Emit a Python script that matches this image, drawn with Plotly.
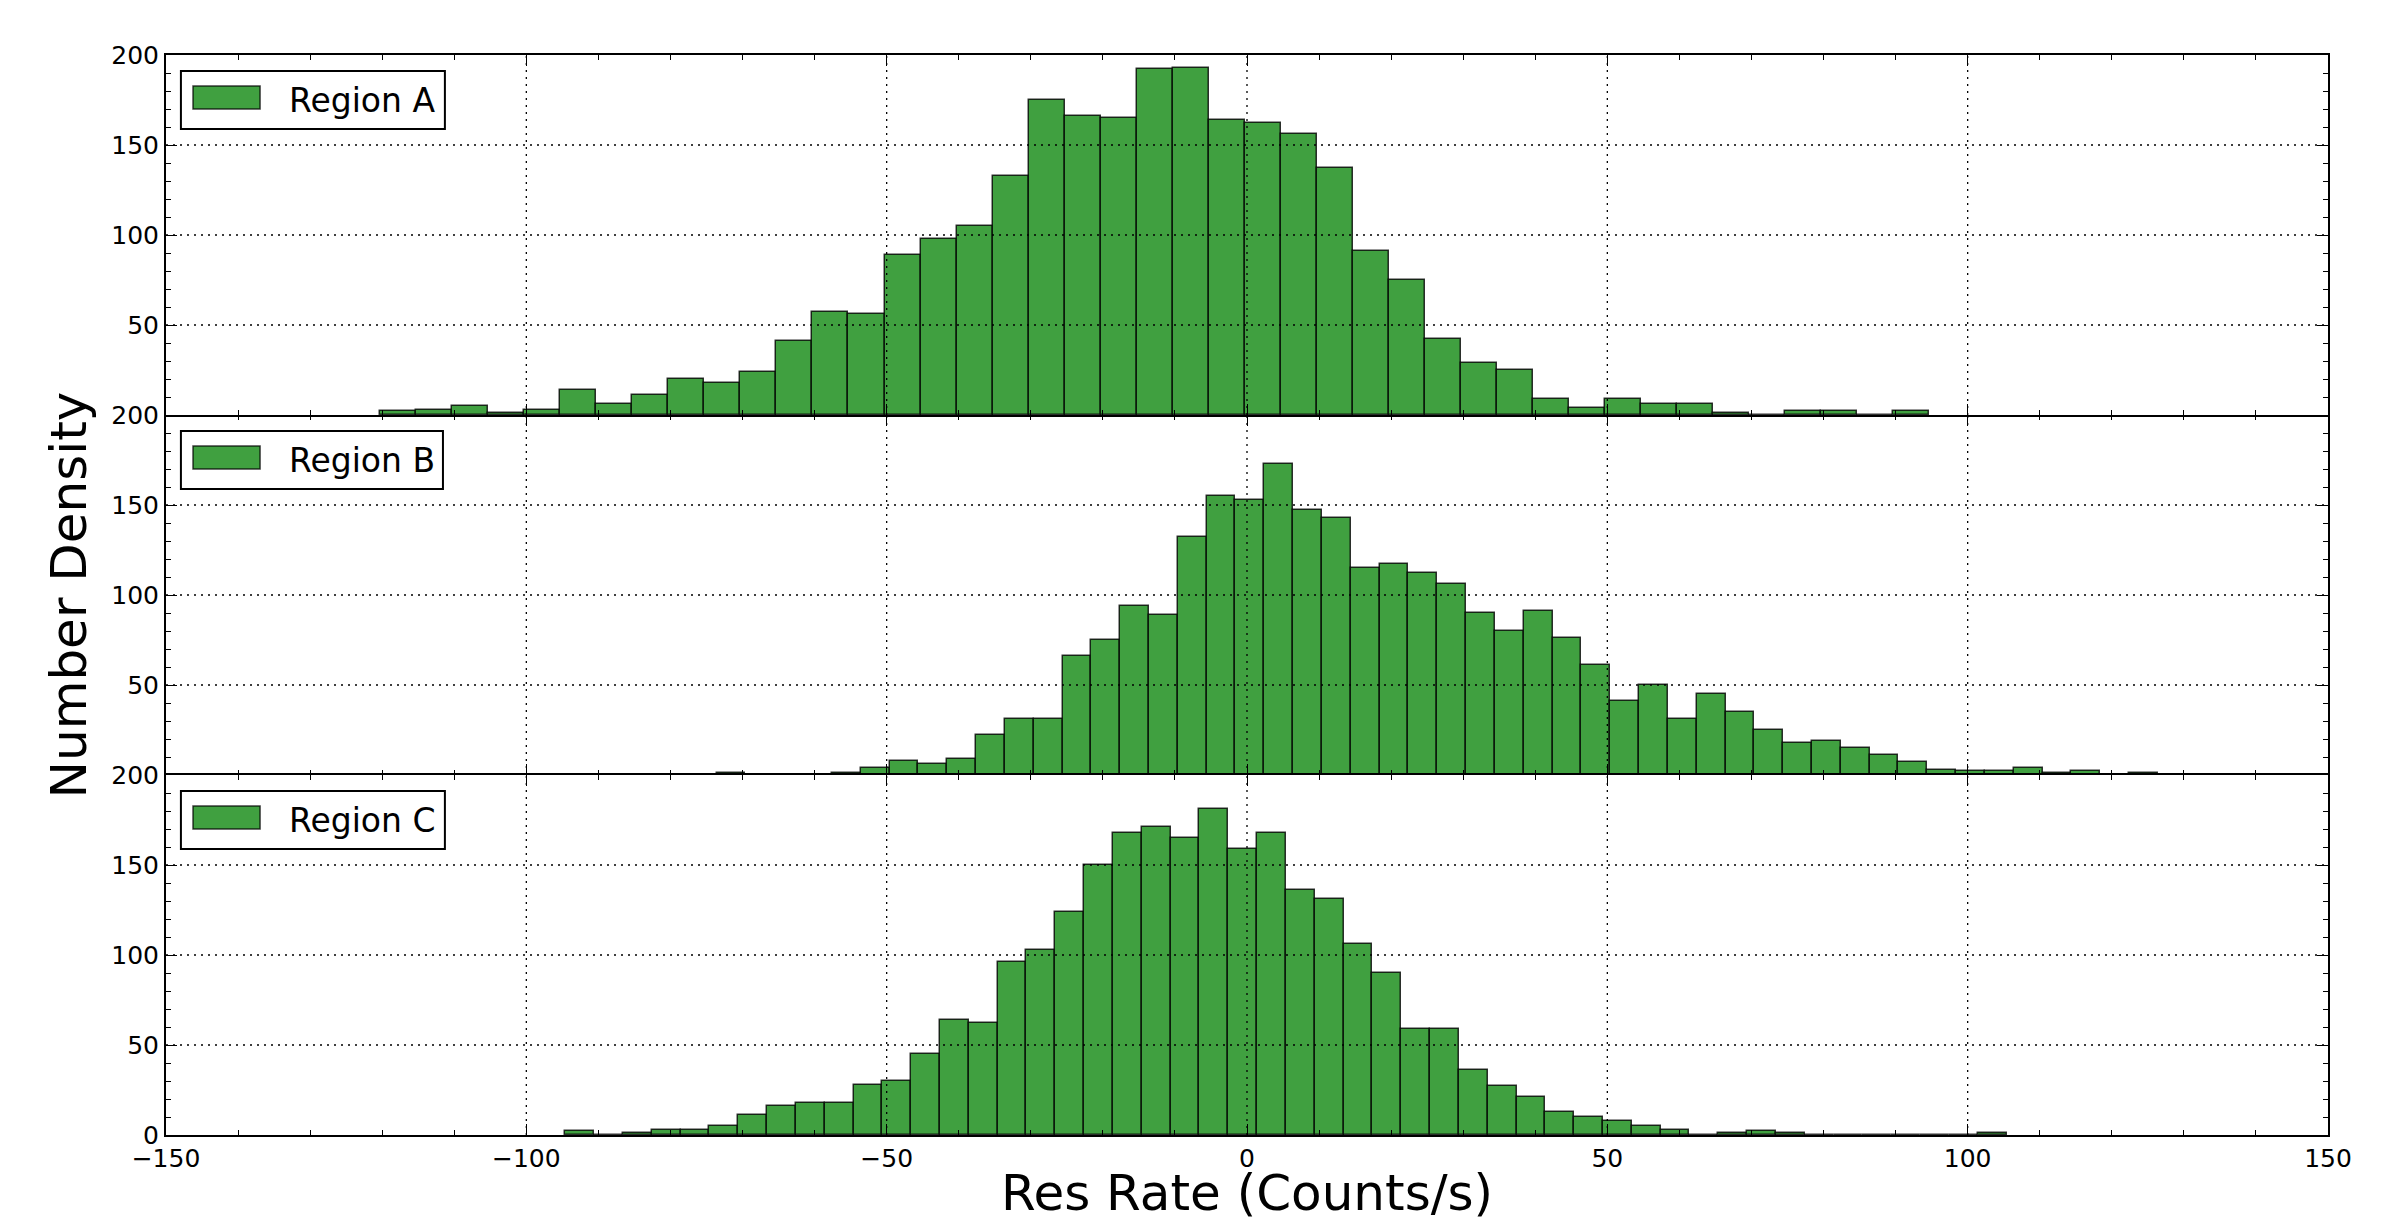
import numpy as np
import plotly.graph_objects as go
from plotly.subplots import make_subplots

# ---------------- data (histogram counts) ----------------
regions = ["Region A", "Region B", "Region C"]

# Region A: bins of width 5 starting at -120.3
a_start, a_width = -120.3, 5.0
a_counts = [2, 3, 5, 1, 3, 14, 6, 11, 20, 18,
            24, 41, 57, 56, 89, 98, 105, 133, 175, 166,
            165, 192, 193, 164, 162, 156, 137, 91, 75, 42,
            29, 25, 9, 4, 9, 6, 6, 1, 0, 2,
            2, 0, 2]

# Region B: bins of width 4 starting at -73.6
b_start, b_width = -73.6, 4.0
b_counts = [1, 0, 0, 0, 1, 4, 8, 6, 9, 22,
            31, 31, 66, 75, 94, 89, 132, 155, 153, 173,
            147, 143, 115, 117, 112, 106, 90, 80, 91, 76,
            61, 41, 50, 31, 45, 35, 25, 18, 19, 15,
            11, 7, 3, 2, 2, 4, 1, 2, 0, 1]

# Region C: bins of width 4 starting at -94.6
c_start, c_width = -94.6, 4.0
c_counts = [2, 0, 1, 3, 3, 5, 11, 16, 18, 18,
            28, 30, 45, 64, 62, 96, 103, 124, 150, 168,
            171, 165, 181, 159, 168, 136, 131, 106, 90, 59,
            59, 36, 27, 21, 13, 10, 8, 5, 3, 0,
            1, 2, 1, 0, 0, 0, 0, 0, 0, 1]

x_tickvals = [-150, -100, -50, 0, 50, 100, 150]
x_ticktext = ["\u2212150", "\u2212100", "\u221250", "0", "50", "100", "150"]
y_tickvals_top = [50, 100, 150, 200]
y_tickvals_bottom = [0, 50, 100, 150, 200]
x_grid = [-100, -50, 0, 50, 100]
y_grid = [50, 100, 150]

FONT = "DejaVu Sans"
BAR_COLOR = "#40a040"

series = [(a_start, a_width, a_counts), (b_start, b_width, b_counts), (c_start, c_width, c_counts)]

fig = make_subplots(rows=3, cols=1, shared_xaxes=True, vertical_spacing=0)

for i, (start, width, counts) in enumerate(series):
    row = i + 1
    n = len(counts)
    centers = start + width * (np.arange(n) + 0.5)
    fig.add_trace(
        go.Bar(
            x=centers, y=counts, width=width, name=regions[i], showlegend=False,
            marker=dict(color=BAR_COLOR, line=dict(color="rgba(0,0,0,0.8)", width=1.5)),
        ),
        row=row, col=1,
    )
    # dotted grid drawn over the bars (as in the reference)
    for v in x_grid:
        fig.add_vline(x=v, row=row, col=1, line=dict(color="black", width=1.3, dash="2px,5px"))
    for v in y_grid:
        fig.add_hline(y=v, row=row, col=1, line=dict(color="black", width=1.3, dash="2px,5px"))

    # legend box (matplotlib-style, wide patch)
    box_right = 0.1290 if i != 1 else 0.1281
    fig.add_shape(type="rect", xref="x domain", yref="y domain", row=row, col=1,
                  x0=0.0069, x1=box_right, y0=0.7944, y1=0.9556,
                  line=dict(color="black", width=2), fillcolor="white", layer="above")
    fig.add_shape(type="rect", xref="x domain", yref="y domain", row=row, col=1,
                  x0=0.0125, x1=0.0435, y0=0.85, y1=0.914,
                  line=dict(color="rgba(0,0,0,0.75)", width=1.5), fillcolor=BAR_COLOR, layer="above")
    fig.add_annotation(xref="x domain", yref="y domain", row=row, col=1,
                       x=0.0560, y=0.874, text=regions[i], showarrow=False,
                       xanchor="left", yanchor="middle",
                       font=dict(family=FONT, size=33, color="black"))

    fig.update_yaxes(
        row=row, col=1, range=[0, 200],
        tickvals=y_tickvals_bottom if row == 3 else y_tickvals_top,
        ticks="inside", ticklen=11, tickwidth=1, tickcolor="black",
        minor=dict(dtick=10, tick0=0, ticks="inside", ticklen=5, tickwidth=1, tickcolor="black", showgrid=False),
        showline=True, linewidth=2, linecolor="black", mirror="ticks",
        showgrid=False, zeroline=False,
        tickfont=dict(family=FONT, size=25, color="black"),
    )
    # middle panel draws no horizontal frame lines itself: its neighbours
    # supply the shared boundaries, so each boundary is a single line
    fig.update_xaxes(
        row=row, col=1, range=[-150, 150],
        tickvals=x_tickvals, ticktext=x_ticktext, showticklabels=(row == 3),
        ticks="inside", ticklen=11, tickwidth=1, tickcolor="black",
        minor=dict(dtick=10, tick0=0, ticks="inside", ticklen=5, tickwidth=1, tickcolor="black", showgrid=False),
        showline=(row != 2), linewidth=2, linecolor="black", mirror="ticks",
        showgrid=False, zeroline=False,
        tickfont=dict(family=FONT, size=25, color="black"),
    )

fig.update_xaxes(row=3, col=1, title=dict(text="Res Rate (Counts/s)", font=dict(family=FONT, size=50, color="black"), standoff=18))
fig.update_yaxes(row=2, col=1, title=dict(text="Number Density", font=dict(family=FONT, size=50, color="black"), standoff=9))

fig.update_layout(
    width=2405, height=1222,
    margin=dict(l=166, r=77, t=55, b=87, autoexpand=False),
    paper_bgcolor="white", plot_bgcolor="white",
    bargap=0, showlegend=False,
    font=dict(family=FONT, color="black"),
)

fig.write_html(
    "out.html",
    config={"displayModeBar": False},
    post_script="document.body.style.margin='0';document.body.style.overflow='hidden';",
)
